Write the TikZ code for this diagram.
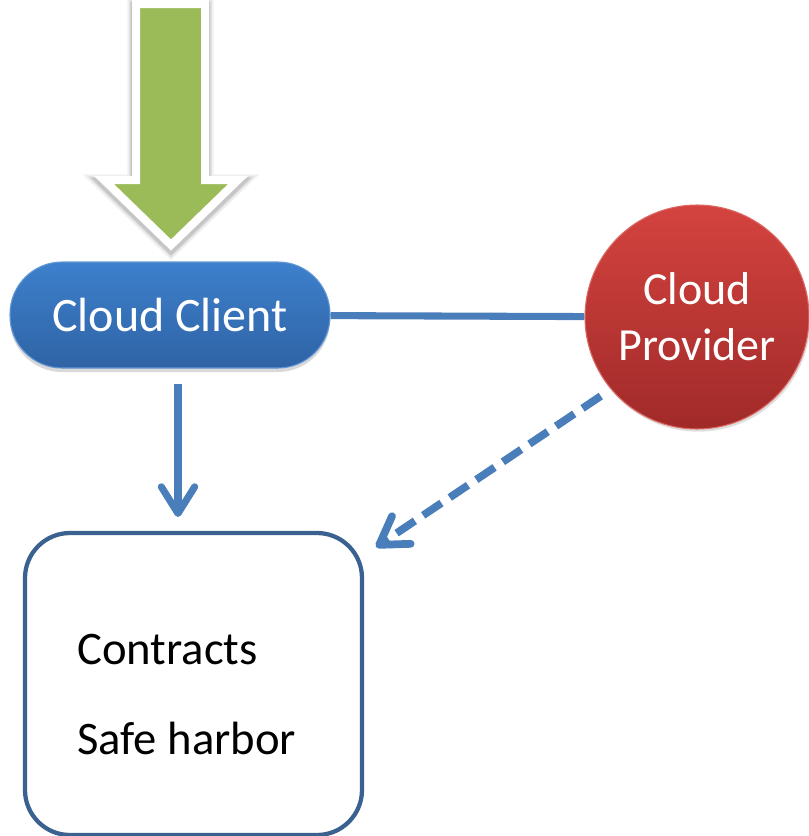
\documentclass[tikz,border=0pt]{standalone}
\usepackage{fontspec}
\setmainfont{Carlito}
\usetikzlibrary{
  shapes,
  shadows,
  calc,
  positioning,
  arrows.meta
}
\definecolor{leaf}{HTML}{9BBB59}
\definecolor{linkblue}{HTML}{4A7EBB}
\definecolor{framblue}{HTML}{3B6190}
\definecolor{pilltop}{HTML}{3D80CC}
\definecolor{pillbot}{HTML}{2F63A5}
\definecolor{balltop}{HTML}{D4433F}
\definecolor{ballbot}{HTML}{A02A29}

\begin{document}
\begin{tikzpicture}[x=0.75pt, y=-0.75pt,
    link/.style = {draw=linkblue, line width=5.3pt},
    tip/.style = {-{Straight Barb[length=20pt,width=25pt,round]}},
    pill/.style = {rectangle, rounded corners=39pt, minimum width=240pt,
      minimum height=79.5pt, top color=pilltop, bottom color=pillbot,
      draw=pilltop!80!white, line width=0.8pt, text=white,
      font=\fontsize{36pt}{40pt}\selectfont,
      drop shadow={shadow xshift=0pt, shadow yshift=-3pt, opacity=0.3}},
    ball/.style = {circle, minimum size=168pt, inner sep=0pt, align=center,
      top color=balltop, bottom color=ballbot, draw=balltop!80!white,
      line width=0.8pt, text=white, font=\fontsize{34.5pt}{42pt}\selectfont,
      drop shadow={shadow xshift=1pt, shadow yshift=-2pt, opacity=0.25}},
    frame/.style = {rectangle, rounded corners=33.75pt, draw=framblue,
      line width=3.2pt, minimum width=252.75pt, minimum height=226.5pt,
      outer sep=0pt}
  ]
    \useasboundingbox (0,0) rectangle (809,836);

    % big green arrow on top, white rim with a soft shadow
    \foreach \w/\o in {13pt/0.06, 10pt/0.08, 8pt/0.1}
      \draw[black, opacity=\o, line width=\w, line join=miter]
        (136,7) -- (205,7) -- (205,183) -- (238,183) -- (171,248)
        -- (104,183) -- (136,183) -- cycle;
    \filldraw[fill=leaf, draw=white, line width=6pt, line join=miter]
      (136,4) -- (205,4) -- (205,180) -- (238,180) -- (171,245)
      -- (104,180) -- (136,180) -- cycle;

    \node[pill] (cc) at (170,315) {Cloud Client};
    \node[ball] (cp) at (697,317) {Cloud\\Provider};
    \node[frame] (lg) at (193.5,684) {};
    \node[anchor=west, align=left, inner sep=0pt,
      font=\fontsize{35pt}{67.5pt}\selectfont] (terms) at (77,694.5)
      {Contracts\\Safe harbor};

    \draw[link] (cc) -- (cp);
    \draw[link, tip, shorten <=11.25pt, shorten >=12pt]
      ([xshift=6pt]cc.south) -- ([xshift=6pt]cc.south |- lg.north);
    \draw[link, tip, line width=5.8pt, dash pattern=on 16.5pt off 7.5pt,
      shorten <=9pt] (cp.220) -- ([xshift=10.5pt,yshift=-10.5pt]lg.north east);
\end{tikzpicture}
\end{document}
